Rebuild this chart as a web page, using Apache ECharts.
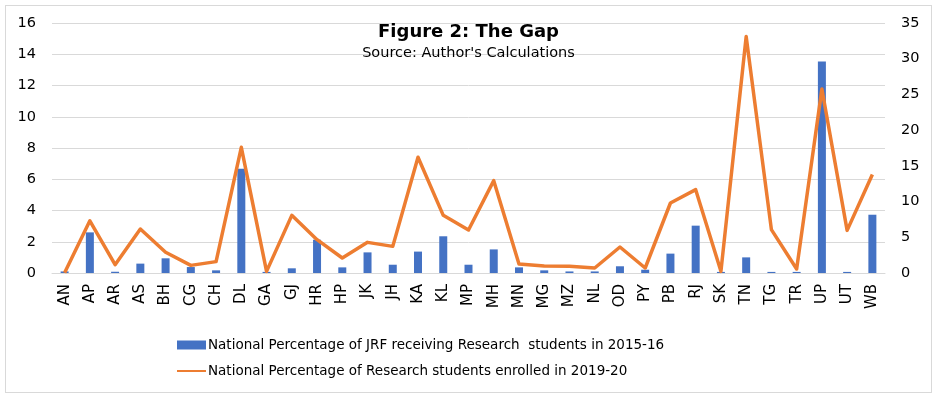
<!DOCTYPE html>
<html>
<head>
<meta charset="utf-8">
<script src="https://cdn.jsdelivr.net/npm/echarts@6/dist/echarts.min.js"></script>
<style>
  html, body { margin: 0; padding: 0; background: #fff; }
  #frame {
    position: absolute; left: 5px; top: 5px;
    width: 925px; height: 386px;
    border: 1px solid #d9d9d9;
  }
  #chart { position: absolute; left: 0; top: 0; width: 937px; height: 398px; }
</style>
</head>
<body>
<div id="frame"></div>
<div id="chart"></div>
<script>
// state codes
const states = ['AN', 'AP', 'AR', 'AS', 'BH', 'CG', 'CH', 'DL', 'GA', 'GJ', 'HR', 'HP', 'JK', 'JH', 'KA', 'KL', 'MP',
  'MH', 'MN', 'MG', 'MZ', 'NL', 'OD', 'PY', 'PB', 'RJ', 'SK', 'TN', 'TG', 'TR', 'UP', 'UT', 'WB']

// JRF receiving research students 2015-16 (left axis)
const jrf2015 = [0.1, 2.6, 0.08, 0.6, 0.94, 0.38, 0.17, 6.68, 0.07, 0.3, 2.13, 0.36, 1.32, 0.53, 1.37, 2.35, 0.53,
  1.51, 0.36, 0.17, 0.1, 0.1, 0.43, 0.21, 1.24, 3.03, 0.07, 1.0, 0.07, 0.07, 13.53, 0.07, 3.73]

// research students enrolled 2019-20 (right axis)
const enrolled2019 = [0.05, 7.3, 1.17, 6.16, 2.9, 1.07, 1.59, 17.6, 0.23, 8.07, 4.67, 2.1, 4.29, 3.73, 16.2, 8.07, 6.02,
  12.93, 1.26, 0.98, 0.93, 0.7, 3.64, 0.7, 9.8, 11.67, 0.23, 33.1, 6.07, 0.56, 25.76, 5.97, 13.8]

const seriesNames = [
  'National Percentage of JRF receiving Research  students in 2015-16',
  'National Percentage of Research students enrolled in 2019-20'
]

const font = "'DejaVu Sans', Verdana, sans-serif"

const chart = echarts.init(document.getElementById('chart'))

const option = {
  animation: false,
  textStyle: { fontFamily: font },
  title: {
    text: 'Figure 2: The Gap',
    subtext: "Source: Author's Calculations",
    left: 'center',
    top: 18,
    itemGap: 5,
    textStyle: { fontSize: 18, fontWeight: 'bold', color: '#000', fontFamily: font },
    subtextStyle: { fontSize: 14.5, color: '#000', fontFamily: font }
  },
  legend: {
    orient: 'vertical',
    left: 171,
    top: 333,
    itemGap: 12,
    itemWidth: 29,
    itemHeight: 9,
    textStyle: { fontSize: 13.5, color: '#000', fontFamily: font, padding: [0, 0, 0, -3] },
    data: [
      { name: seriesNames[0], icon: 'rect' },
      { name: seriesNames[1], itemStyle: { opacity: 0 } }
    ]
  },
  grid: { left: 52, right: 52, top: 23, bottom: 125 },
  xAxis: {
    type: 'category',
    data: states,
    axisLine: { lineStyle: { color: '#d9d9d9' } },
    axisTick: { show: false },
    axisLabel: { rotate: 90, fontSize: 15, color: '#000', margin: 11, interval: 0 }
  },
  yAxis: [
    {
      type: 'value',
      min: 0,
      max: 16,
      interval: 2,
      axisLabel: { fontSize: 14.5, color: '#000', margin: 16 },
      splitLine: { lineStyle: { color: '#d9d9d9' } }
    },
    {
      type: 'value',
      min: 0,
      max: 35,
      interval: 5,
      axisLabel: { fontSize: 14.5, color: '#000', margin: 16 },
      splitLine: { show: false }
    }
  ],
  series: [
    {
      name: seriesNames[0],
      type: 'bar',
      yAxisIndex: 0,
      barWidth: 8,
      itemStyle: { color: '#4472C4' },
      data: jrf2015
    },
    {
      name: seriesNames[1],
      type: 'line',
      yAxisIndex: 1,
      symbol: 'none',
      lineStyle: { color: '#ED7D31', width: 3.5, join: 'round' },
      itemStyle: { color: '#ED7D31' },
      data: enrolled2019
    }
  ]
}

chart.setOption(option)
</script>
</body>
</html>
